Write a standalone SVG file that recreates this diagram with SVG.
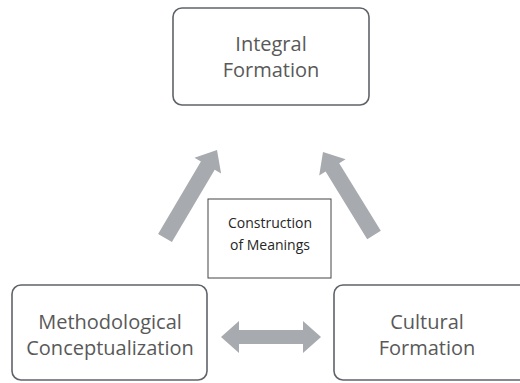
<svg xmlns="http://www.w3.org/2000/svg" width="520" height="383" viewBox="0 0 520 383">
<style>
.node{fill:#ffffff;stroke:#5f6368;stroke-width:1.6}
.lbl{font-family:"Open Sans","Noto Sans",sans-serif;font-size:20px;fill:#595959;text-anchor:middle}
.mid{fill:#ffffff;stroke:#444444;stroke-width:1}
.midlbl{font-family:"Open Sans","Noto Sans",sans-serif;font-size:14px;fill:#262626;text-anchor:middle}
.arr{fill:#a7aaae;stroke:none}
</style>
<rect width="520" height="383" fill="#ffffff"/>
<g id="connectors">
<polygon class="arr" points="158.1,233.9 171.9,242.1 214.7,169.8 221.1,173.6 217,150 194.5,157.8 200.9,161.6"/>
<polygon class="arr" points="380.8,230.8 367.2,239.2 325.6,171.6 319.2,175.5 323,152 345.6,159.3 339.2,163.2"/>
<polygon class="arr" points="221,337 239,321 239,330 303,330 303,321 321,337 303,353 303,344 239,344 239,353"/>
</g>
<g id="integral-formation">
<rect class="node" x="173" y="8" width="196" height="97" rx="9"/>
<text class="lbl" x="271" y="51">Integral</text>
<text class="lbl" x="271" y="77">Formation</text>
</g>
<g id="construction-of-meanings">
<rect class="mid" x="208" y="199" width="123" height="79"/>
<text class="midlbl" x="270" y="228">Construction</text>
<text class="midlbl" x="270" y="250">of Meanings</text>
</g>
<g id="methodological-conceptualization">
<rect class="node" x="12" y="285" width="195" height="95" rx="9"/>
<text class="lbl" x="110" y="329">Methodological</text>
<text class="lbl" x="110" y="355">Conceptualization</text>
</g>
<g id="cultural-formation">
<rect class="node" x="334" y="285" width="196" height="95" rx="9"/>
<text class="lbl" x="427" y="329">Cultural</text>
<text class="lbl" x="427" y="355">Formation</text>
</g>
</svg>
